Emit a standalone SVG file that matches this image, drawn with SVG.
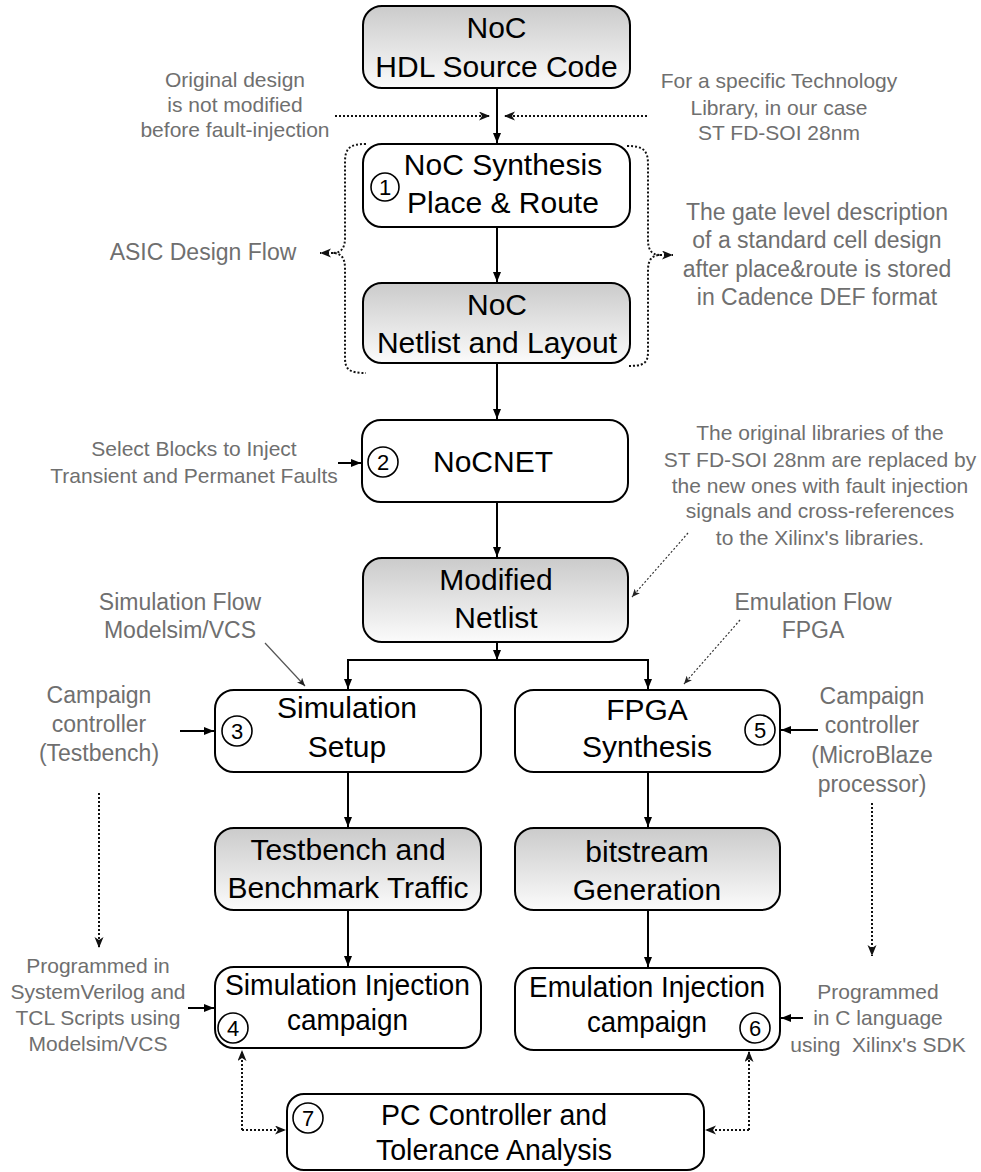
<svg xmlns="http://www.w3.org/2000/svg" width="981" height="1172" viewBox="0 0 981 1172">
<defs>
<linearGradient id="gr" x1="0" y1="0" x2="0" y2="1">
<stop offset="0" stop-color="#cbcbcb"/>
<stop offset="1" stop-color="#fbfbfb"/>
</linearGradient>
<marker id="ah" markerUnits="userSpaceOnUse" markerWidth="12" markerHeight="10" refX="10" refY="4" orient="auto">
<path d="M0,0 L10,4 L0,8 z" fill="#000"/>
</marker>
<marker id="ad" markerUnits="userSpaceOnUse" markerWidth="13" markerHeight="11" refX="11" refY="4.5" orient="auto">
<path d="M0,0 L11,4.5 L0,9 L3,4.5 z" fill="#111"/>
</marker>
<marker id="as" markerUnits="userSpaceOnUse" markerWidth="10" markerHeight="8" refX="8" refY="3.5" orient="auto">
<path d="M0,0 L8,3.5 L0,7 L2,3.5 z" fill="#222"/>
</marker>
</defs>
<style>
.box{stroke:#000;stroke-width:2;fill:#fff}
.g{fill:url(#gr)}
.t{font-family:"Liberation Sans",Arial,sans-serif;font-size:30px;fill:#000;text-anchor:middle}
.n{font-family:"Liberation Sans",Arial,sans-serif;font-size:22px;fill:#000;text-anchor:middle}
.c{fill:none;stroke:#000;stroke-width:1.6}
.gs{font-family:"Liberation Sans",Arial,sans-serif;font-size:21px;fill:#6f6f6f;text-anchor:middle;white-space:pre}
.gl{font-family:"Liberation Sans",Arial,sans-serif;font-size:23px;fill:#6f6f6f;text-anchor:middle}
.e{fill:none;stroke:#000;stroke-width:2}
.d{fill:none;stroke:#111;stroke-width:2;stroke-dasharray:2,2}
.dt{fill:none;stroke:#333;stroke-width:1.2;stroke-dasharray:2,2}
</style>

<g id="n_hdl">
<rect class="box g" x="363" y="6" width="267" height="82" rx="19"/>
<text class="t" x="496.5" y="38">NoC</text>
<text class="t" x="496.5" y="77">HDL Source Code</text>
</g>
<g id="n_synth">
<rect class="box" x="363" y="144" width="267" height="83" rx="19"/>
<text class="t" x="503" y="175">NoC Synthesis</text>
<text class="t" x="503" y="213">Place &amp; Route</text>
<circle class="c" cx="385" cy="187" r="14"/>
<text class="n" x="385" y="195">1</text>
</g>
<g id="n_netlist">
<rect class="box g" x="363" y="283" width="267" height="80" rx="19"/>
<text class="t" x="497" y="315">NoC</text>
<text class="t" x="497" y="353">Netlist and Layout</text>
</g>
<g id="n_nocnet">
<rect class="box" x="362" y="420" width="266" height="82" rx="19"/>
<text class="t" x="493" y="472">NoCNET</text>
<circle class="c" cx="383" cy="462" r="15"/>
<text class="n" x="383" y="470">2</text>
</g>
<g id="n_modified">
<rect class="box g" x="363" y="558" width="265" height="84" rx="19"/>
<text class="t" x="496" y="590">Modified</text>
<text class="t" x="496" y="628">Netlist</text>
</g>
<g id="n_simsetup">
<rect class="box" x="215" y="690" width="266" height="82" rx="19"/>
<text class="t" x="347" y="718">Simulation</text>
<text class="t" x="347" y="757">Setup</text>
<circle class="c" cx="237" cy="731" r="15"/>
<text class="n" x="237" y="739">3</text>
</g>
<g id="n_fpga">
<rect class="box" x="515" y="690" width="265" height="82" rx="19"/>
<text class="t" x="647" y="720">FPGA</text>
<text class="t" x="647" y="757">Synthesis</text>
<circle class="c" cx="760" cy="730" r="15"/>
<text class="n" x="760" y="738">5</text>
</g>
<g id="n_tb">
<rect class="box g" x="215" y="828" width="266" height="82" rx="19"/>
<text class="t" x="348" y="860">Testbench and</text>
<text class="t" x="348" y="898">Benchmark Traffic</text>
</g>
<g id="n_bit">
<rect class="box g" x="515" y="828" width="265" height="82" rx="19"/>
<text class="t" x="647" y="862">bitstream</text>
<text class="t" x="647" y="900">Generation</text>
</g>
<g id="n_siminj">
<rect class="box" x="215" y="967" width="266" height="81" rx="19"/>
<text class="t" x="347.5" y="995" textLength="245" lengthAdjust="spacingAndGlyphs">Simulation Injection</text>
<text class="t" x="347.5" y="1030" textLength="121" lengthAdjust="spacingAndGlyphs">campaign</text>
<circle class="c" cx="233" cy="1028" r="15"/>
<text class="n" x="233" y="1036">4</text>
</g>
<g id="n_emuinj">
<rect class="box" x="515" y="968" width="265" height="82" rx="19"/>
<text class="t" x="647" y="997" textLength="236" lengthAdjust="spacingAndGlyphs">Emulation Injection</text>
<text class="t" x="647" y="1032" textLength="120" lengthAdjust="spacingAndGlyphs">campaign</text>
<circle class="c" cx="755" cy="1028" r="15"/>
<text class="n" x="755" y="1036">6</text>
</g>
<g id="n_pc">
<rect class="box" x="287" y="1094" width="417" height="76" rx="17"/>
<text class="t" x="494" y="1125" textLength="226" lengthAdjust="spacingAndGlyphs">PC Controller and</text>
<text class="t" x="494" y="1160" textLength="236" lengthAdjust="spacingAndGlyphs">Tolerance Analysis</text>
<circle class="c" cx="308" cy="1118" r="15"/>
<text class="n" x="308" y="1126">7</text>
</g>

<g id="labels">
<text class="gs" x="235" y="87">Original design</text>
<text class="gs" x="235" y="112">is not modified</text>
<text class="gs" x="235" y="137">before fault-injection</text>
<text class="gs" x="779" y="88">For a specific Technology</text>
<text class="gs" x="779" y="115">Library, in our case</text>
<text class="gs" x="779" y="140">ST FD-SOI 28nm</text>
<text class="gl" x="203" y="260">ASIC Design Flow</text>
<text class="gl" x="817" y="220">The gate level description</text>
<text class="gl" x="817" y="248">of a standard cell design</text>
<text class="gl" x="817" y="277">after place&amp;route is stored</text>
<text class="gl" x="817" y="305">in Cadence DEF format</text>
<text class="gs" x="194" y="456">Select Blocks to Inject</text>
<text class="gs" x="194" y="483">Transient and Permanet Faults</text>
<text class="gs" x="820" y="440">The original libraries of the</text>
<text class="gs" x="820" y="467">ST FD-SOI 28nm are replaced by</text>
<text class="gs" x="820" y="493">the new ones with fault injection</text>
<text class="gs" x="820" y="518">signals and cross-references</text>
<text class="gs" x="820" y="545">to the Xilinx's libraries.</text>
<text class="gl" x="180" y="610">Simulation Flow</text>
<text class="gl" x="180" y="638">Modelsim/VCS</text>
<text class="gl" x="813" y="610">Emulation Flow</text>
<text class="gl" x="813" y="638">FPGA</text>
<text class="gl" x="99" y="703">Campaign</text>
<text class="gl" x="99" y="732">controller</text>
<text class="gl" x="99" y="761">(Testbench)</text>
<text class="gl" x="872" y="704">Campaign</text>
<text class="gl" x="872" y="733">controller</text>
<text class="gl" x="872" y="763">(MicroBlaze</text>
<text class="gl" x="872" y="792">processor)</text>
<text class="gs" x="98" y="973">Programmed in</text>
<text class="gs" x="98" y="999">SystemVerilog and</text>
<text class="gs" x="98" y="1025">TCL Scripts using</text>
<text class="gs" x="98" y="1051">Modelsim/VCS</text>
<text class="gs" x="878" y="999">Programmed</text>
<text class="gs" x="878" y="1025">in C language</text>
<text class="gs" x="878" y="1052">using  Xilinx's SDK</text>
</g>

<g id="connectors">
<path class="e" d="M497,88 V143" marker-end="url(#ah)"/>
<path class="d" d="M335,116 H490" marker-end="url(#ad)"/>
<path class="d" d="M647,116 H504" marker-end="url(#ad)"/>
<path class="e" d="M497,227 V282" marker-end="url(#ah)"/>
<path class="d" d="M366,144 C350,144 345,148 345,162 V238 C345,248 341,253 333,253 C341,253 345,258 345,268 V358 C345,370 350,373 366,373"/>
<path class="d" d="M333,253 H320" marker-end="url(#ad)"/>
<path class="d" d="M627,146 C643,146 648,150 648,164 V240 C648,250 652,255 660,255 C652,255 648,260 648,270 V352 C648,364 643,366 627,366"/>
<path class="d" d="M660,255 H673" marker-end="url(#ad)"/>
<path class="e" d="M497,363 V419" marker-end="url(#ah)"/>
<path class="e" d="M338,463 H361" marker-end="url(#ah)"/>
<path class="e" d="M497,502 V557" marker-end="url(#ah)"/>
<path class="dt" d="M688,533 L632,597" marker-end="url(#as)"/>
<path class="e" d="M497,642 V660" marker-end="url(#ah)"/>
<path class="e" d="M348,690 V660 H648 V690"/>
<path class="e" d="M348,661 V689" marker-end="url(#ah)"/>
<path class="e" d="M648,661 V689" marker-end="url(#ah)"/>
<path fill="none" stroke="#555" stroke-width="1.2" d="M265,643 L305,686" marker-end="url(#as)"/>
<path class="dt" d="M740,620 L684,684" marker-end="url(#as)"/>
<path class="e" d="M180,731 H214" marker-end="url(#ah)"/>
<path class="e" d="M818,730 H781" marker-end="url(#ah)"/>
<path class="d" d="M99,793 V948" marker-end="url(#ad)"/>
<path class="d" d="M872,803 V956" marker-end="url(#ad)"/>
<path class="e" d="M348,772 V827" marker-end="url(#ah)"/>
<path class="e" d="M648,772 V827" marker-end="url(#ah)"/>
<path class="e" d="M348,910 V966" marker-end="url(#ah)"/>
<path class="e" d="M648,910 V967" marker-end="url(#ah)"/>
<path class="e" d="M188,1008 H214" marker-end="url(#ah)"/>
<path class="e" d="M803,1018 H781" marker-end="url(#ah)"/>
<path class="d" d="M242,1130 V1050" marker-end="url(#ad)"/>
<path class="d" d="M242,1130 H286" marker-end="url(#ad)"/>
<path class="d" d="M749,1130 V1051" marker-end="url(#ad)"/>
<path class="d" d="M749,1130 H705" marker-end="url(#ad)"/>
</g>
</svg>
